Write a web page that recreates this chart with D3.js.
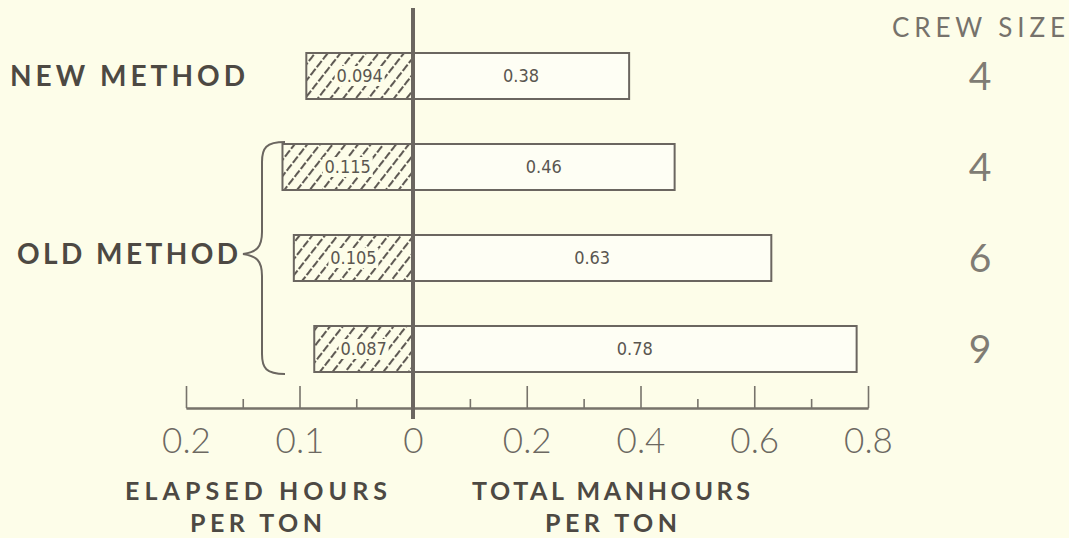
<!DOCTYPE html>
<html>
<head>
<meta charset="utf-8">
<script src="https://cdn.jsdelivr.net/npm/d3@7"></script>
<style>
  body { margin: 0; background: #fdfde9; }
  svg { display: block; }
  .head { font-family: Lato, "Open Sans", sans-serif; font-weight: bold; fill: #4d4943; }
  .light { font-family: Lato, "Open Sans", sans-serif; font-weight: 300; fill: #7a766e; }
  .barlab { font-family: "Liberation Sans Narrow", "DejaVu Sans Condensed", "DejaVu Sans", sans-serif; font-stretch: condensed; fill: #5a5650; }
</style>
</head>
<body>
<div id="chart"></div>
<script>
const BG = "#fdfde9"
const INK = "#6b6660"

// data
const rows = ["new", "old1", "old2", "old3"]
const elapsedHours = [0.094, 0.115, 0.105, 0.087]
const elapsedLabels = ["0.094", "0.115", "0.105", "0.087"]
const manhours = [0.38, 0.46, 0.63, 0.78]
const manhourLabels = ["0.38", "0.46", "0.63", "0.78"]
const crewSize = [4, 4, 6, 9]
const leftTicks = [0.2, 0.1, 0]
const leftMinor = [0.15, 0.05]
const rightTicks = [0.2, 0.4, 0.6, 0.8]
const rightMinor = [0.1, 0.3, 0.5, 0.7]

let width = 1069, height = 538
let svg = d3.select("#chart").append("svg").attr("width", width).attr("height", height)
svg.append("rect").attr("width", width).attr("height", height).attr("fill", BG)

// left side runs at twice the scale of the right side
let xL = d3.scaleLinear().domain([0, 0.2]).range([413, 186])
let xR = d3.scaleLinear().domain([0, 0.8]).range([413, 868])
let y = d3.scalePoint().domain(rows).range([76, 349])
let barH = 46
let axisY = 408

let pat = svg.append("defs").append("pattern").attr("id", "hatch")
    .attr("patternUnits", "userSpaceOnUse").attr("width", 10).attr("height", 10)
    .attr("patternTransform", "rotate(38)")
pat.append("rect").attr("width", 10).attr("height", 10).attr("fill", BG)
pat.append("line").attr("x1", 1).attr("y1", 0).attr("x2", 1).attr("y2", 10)
    .attr("stroke", "#5e5953").attr("stroke-width", 2.1).attr("stroke-dasharray", "8 2")

let data = rows.map((r, i) => ({ r: r, e: elapsedHours[i], el: elapsedLabels[i], m: manhours[i], ml: manhourLabels[i], c: crewSize[i] }))

// hatched bars (elapsed hours)
let gl = svg.append("g")
gl.selectAll("rect").data(data).join("rect")
    .attr("x", d => xL(d.e)).attr("y", d => y(d.r) - barH / 2)
    .attr("width", d => xL(0) - xL(d.e)).attr("height", barH)
    .attr("fill", "url(#hatch)").attr("stroke", INK).attr("stroke-width", 2)

let lab = gl.selectAll("g.lab").data(data).join("g").attr("class", "lab")
lab.append("rect")
    .attr("x", d => (xL(d.e) + xL(0)) / 2 - 25).attr("y", d => y(d.r) - 10)
    .attr("width", 50).attr("height", 20).attr("fill", BG)
lab.append("text").attr("class", "barlab")
    .attr("x", d => (xL(d.e) + xL(0)) / 2).attr("y", d => y(d.r))
    .attr("dy", "0.36em").attr("text-anchor", "middle").attr("font-size", 18)
    .text(d => d.el)

// open bars (total manhours)
let gr = svg.append("g")
gr.selectAll("rect").data(data).join("rect")
    .attr("x", xR(0)).attr("y", d => y(d.r) - barH / 2)
    .attr("width", d => xR(d.m) - xR(0)).attr("height", barH)
    .attr("fill", "#fefef4").attr("stroke", INK).attr("stroke-width", 2)
gr.selectAll("text").data(data).join("text").attr("class", "barlab")
    .attr("x", d => (xR(0) + xR(d.m)) / 2).attr("y", d => y(d.r))
    .attr("dy", "0.36em").attr("text-anchor", "middle").attr("font-size", 18)
    .text(d => d.ml)

// axes
let fmt = d => d === 0 ? "0" : d.toFixed(1)
function styleAxis(g) {
    g.select(".domain").attr("stroke", "#77736b").attr("stroke-width", 2).attr("fill", "none")
    g.selectAll(".tick line").attr("stroke", "#77736b").attr("stroke-width", 1.6)
    g.selectAll(".tick text").attr("class", "light").attr("font-family", null)
        .attr("font-size", 35).style("fill", "#6c6861")
}
svg.append("g").attr("transform", `translate(0,${axisY})`)
    .call(d3.axisBottom(xL).tickValues(leftTicks).tickFormat(fmt).tickSize(-22).tickSizeOuter(0).tickPadding(20))
    .call(styleAxis)
svg.append("g").attr("transform", `translate(0,${axisY})`)
    .call(d3.axisBottom(xR).tickValues(rightTicks).tickFormat(fmt).tickSize(-22).tickSizeOuter(0).tickPadding(20))
    .call(styleAxis)
svg.append("g").attr("transform", `translate(0,${axisY})`)
    .call(d3.axisBottom(xL).tickValues(leftMinor).tickFormat("").tickSize(-9).tickSizeOuter(0))
    .call(styleAxis)
svg.append("g").attr("transform", `translate(0,${axisY})`)
    .call(d3.axisBottom(xR).tickValues(rightMinor).tickFormat("").tickSize(-9).tickSizeOuter(0))
    .call(styleAxis)

// zero line
svg.append("line").attr("x1", xL(0)).attr("x2", xL(0)).attr("y1", 8).attr("y2", 419)
    .attr("stroke", INK).attr("stroke-width", 4)

// method labels and brace
svg.append("text").attr("class", "head").attr("x", 10).attr("y", y("new")).attr("dy", "0.36em")
    .attr("font-size", 28).attr("textLength", 235).attr("lengthAdjust", "spacing").text("NEW METHOD")
svg.append("text").attr("class", "head").attr("x", 17).attr("y", y("old2") - 4).attr("dy", "0.36em")
    .attr("font-size", 28).attr("textLength", 221).attr("lengthAdjust", "spacing").text("OLD METHOD")

let bTop = y("old1") - 25, bBot = y("old3") + 25, bMid = y("old2") - 4
let bx = 262
svg.append("path")
    .attr("d", `M${bx + 23},${bTop} C${bx + 4},${bTop} ${bx},${bTop + 6} ${bx},${bTop + 20}
        L${bx},${bMid - 22} C${bx},${bMid - 6} ${bx - 6},${bMid - 2} ${bx - 19},${bMid}
        C${bx - 6},${bMid + 2} ${bx},${bMid + 6} ${bx},${bMid + 22}
        L${bx},${bBot - 20} C${bx},${bBot - 6} ${bx + 4},${bBot} ${bx + 23},${bBot}`)
    .attr("fill", "none").attr("stroke", INK).attr("stroke-width", 2)

// crew size column
svg.append("text").attr("class", "light").attr("x", 892).attr("y", 37)
    .attr("font-size", 26).style("font-weight", 400).style("fill", "#76726b")
    .attr("textLength", 173).attr("lengthAdjust", "spacing")
    .text("CREW SIZE")
svg.append("g").selectAll("text").data(data).join("text").attr("class", "light")
    .attr("x", 980).attr("y", d => y(d.r) + 14).attr("text-anchor", "middle")
    .attr("font-size", 39).style("font-weight", 400).style("fill", "#807c74").text(d => d.c)

// axis titles
let titles = [
    { x: 256, y: 500, t: "ELAPSED HOURS", w: 262 },
    { x: 256, y: 532, t: "PER TON", w: 132 },
    { x: 611, y: 500, t: "TOTAL MANHOURS", w: 278 },
    { x: 611, y: 532, t: "PER TON", w: 132 }
]
svg.append("g").selectAll("text").data(titles).join("text").attr("class", "head")
    .attr("x", d => d.x).attr("y", d => d.y).attr("text-anchor", "middle")
    .attr("font-size", 25).attr("textLength", d => d.w).attr("lengthAdjust", "spacing")
    .text(d => d.t)
</script>
</body>
</html>
